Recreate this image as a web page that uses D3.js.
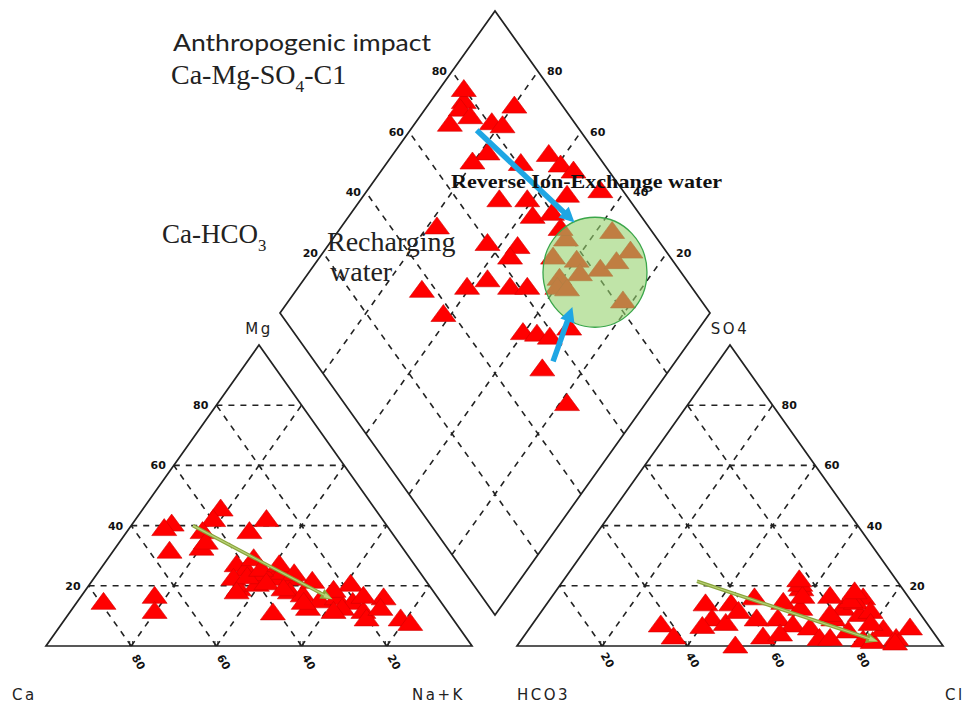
<!DOCTYPE html>
<html>
<head>
<meta charset="utf-8">
<title>Piper diagram</title>
<script src="https://d3js.org/d3.v7.min.js"></script>
<style>
    body { margin: 0; background: #fff; }
    svg { display: block; }
    .grid { fill: none; stroke: #222; stroke-width: 1.6; stroke-dasharray: 6,6; }
    .edge { fill: none; stroke: #222; stroke-width: 1.7; }
    .tick { font-family: "DejaVu Sans"; font-weight: bold; font-size: 11px; fill: #111; }
    .corner { font-family: "DejaVu Sans"; font-size: 15px; letter-spacing: 2.5px; fill: #222; }
    .serif { font-family: "Liberation Serif"; fill: #222; }
</style>
</head>
<body>
<div id="chart"></div>
<script>
// cation triangle: Na+K % and Mg % (Ca = rest)
const cationNaK = [9, 8, 13, 18, 18, 17.5, 20, 20, 30.5, 28.5, 6, 17, 19.5, 31, 34, 32.5, 35.5, 39, 39, 42,
                   43, 46.5, 47.5, 48, 51.5, 51.5, 55, 56.5, 60, 61, 64.5, 63, 68.5, 70.5, 71, 72, 78.5, 81.5, 61.5, 34,
                   35.5, 37.5, 41, 46, 41, 35.5, 46, 58, 66, 53];
const cationMg  = [41, 39.5, 32, 46, 42.5, 38.5, 33, 35, 42.5, 38.5, 15, 17, 12, 27.5, 26, 23, 19.5, 21, 24.5, 23,
                   25, 23, 11.5, 18.5, 17.5, 22, 13, 15.5, 16.5, 21, 15, 13, 12, 9.5, 16.5, 13, 9.5, 8, 12, 29.5,
                   23.5, 26, 27.5, 24.5, 21.5, 18.5, 19.5, 19, 17, 15];

// anion triangle: Cl % and SO4 % (HCO3 = rest)
const anionCl  = [30, 35, 37, 41, 40, 43, 45, 46, 47.5, 51.5, 56, 51, 56.5, 55, 57, 60, 61, 65.5, 69.5, 69.5,
                  70, 73, 75, 75, 80, 82.5, 83, 87.5, 89, 72, 59.5, 88, 56, 58.5, 72, 77, 68, 70.5, 70, 55, 65, 79];
const anionSO4 = [7.5, 3.5, 14.5, 9.5, 7, 14.5, 8, 12, 16.5, 9.5, 3.5, 0.5, 9.5, 15, 19.5, 13, 7.5, 6.5, 3, 9.5,
                  13, 16.5, 11, 5.5, 2.5, 2, 6, 3, 6.5, 3, 4.5, 1.5, 21, 17, 15, 12, 11, 15.5, 18.5, 22.5, 17, 8];

// diamond: SO4+Cl % and Ca+Mg %
const diamondSO4Cl = [78, 76, 71, 77, 81, 83, 89, 75, 70, 81, 89, 90, 92, 70, 76.5, 75, 80, 86.5, 95, 51,
                      60, 66.5, 63, 37, 48, 54, 58, 62, 38, 53.5, 56.5, 59, 65, 52, 52, 91, 79, 92, 78, 82,
                      87, 71, 76.5, 69, 71, 82, 73, 79.5, 80];
const diamondCaMg  = [92.5, 92, 92, 88.5, 82.5, 79.5, 80, 78.5, 80.5, 69, 64, 59.5, 55.5, 68, 61.5, 57.5, 53.5, 53, 46, 78,
                      63.5, 56, 56, 71, 61, 57.5, 51, 47, 62, 40.5, 37, 33.5, 30.5, 30, 18.5, 36.5, 46, 29, 40, 33,
                      30.5, 41, 37, 40, 37.5, 22.5, 46, 49, 94.5];

const gridTicks = [20, 40, 60, 80];

// trend arrows (from -> to)
const cationTrend = [[14.5, 40], [59.5, 15.5]];      // [Na+K, Mg]
const anionTrend = [[31.5, 21.5], [84, 1.5]];        // [Cl, SO4]
const diamondArrows = [[[76, 84.5], [83.5, 46.5]],   // [SO4+Cl, Ca+Mg]
                       [[55.5, 28.5], [69, 33]]];
const exchangeZone = [80, 33.5];

const W = 979, H = 707;
const svg = d3.select("#chart").append("svg").attr("width", W).attr("height", H);
svg.append("rect").attr("width", W).attr("height", H).attr("fill", "#fff");

const triW = 426, triH = 301;
function ternary(x0, y0) {
    const sx = d3.scaleLinear().domain([0, 100]).range([0, triW]);
    const sy = d3.scaleLinear().domain([0, 100]).range([y0, y0 - triH]);
    return (a, b) => [x0 + sx(a) + sx(b) / 2, sy(b)];
}
const cat = ternary(46, 646);
const ani = ternary(517, 646);
const px = d3.scaleLinear().domain([0, 100]).range([0, 215]);
const py = d3.scaleLinear().domain([0, 100]).range([0, 302]);
const dia = (p, q) => [495 + px(p) - px(q), 615 - py(p) - py(q)];

const line = d3.line();
function seg(g, f, a, b) {
    g.append("path").attr("class", "grid").attr("d", line([f(...a), f(...b)]));
}

function drawTriangle(f) {
    const g = svg.append("g");
    gridTicks.forEach(t => {
        seg(g, f, [0, t], [100 - t, t]);
        seg(g, f, [t, 0], [t, 100 - t]);
        seg(g, f, [100 - t, 0], [0, 100 - t]);
        const [x, y] = f(t, 0);
        [-1.5, 1.5].forEach(o => g.append("line").attr("x1", x + o).attr("x2", x + o)
            .attr("y1", y - 5).attr("y2", y).attr("stroke", "#222").attr("stroke-width", 1));
    });
    g.append("path").attr("class", "edge").attr("d", line([f(0, 0), f(100, 0), f(0, 100)]) + "Z");
    return g;
}

const gc = drawTriangle(cat);
const ga = drawTriangle(ani);

// diamond
const gd = svg.append("g");
gridTicks.forEach(t => {
    seg(gd, dia, [t, 0], [t, 100]);
    seg(gd, dia, [0, t], [100, t]);
});
gd.append("path").attr("class", "edge").attr("d", line([dia(0, 0), dia(100, 0), dia(100, 100), dia(0, 100)]) + "Z");

// tick labels
gridTicks.forEach(t => {
    let [x, y] = cat(0, t);
    gc.append("text").attr("class", "tick").attr("x", x - 8).attr("y", y + 4).attr("text-anchor", "end").text(t);
    [x, y] = cat(t, 0);
    gc.append("text").attr("class", "tick").attr("text-anchor", "middle")
        .attr("transform", `translate(${x + 4},${y + 18}) rotate(60)`).text(100 - t);
    [x, y] = ani(100 - t, t);
    ga.append("text").attr("class", "tick").attr("x", x + 9).attr("y", y + 4).text(t);
    [x, y] = ani(t, 0);
    ga.append("text").attr("class", "tick").attr("text-anchor", "middle")
        .attr("transform", `translate(${x + 2},${y + 16}) rotate(60)`).text(t);
    [x, y] = dia(t, 100);
    gd.append("text").attr("class", "tick").attr("x", x - 5).attr("y", y + 4).attr("text-anchor", "end").text(t);
    [x, y] = dia(100, t);
    gd.append("text").attr("class", "tick").attr("x", x + 9).attr("y", y + 4).text(t);
});

// corner labels
const corners = [
    ["Mg", cat(0, 100), 0, -11, "middle"], ["Ca", cat(0, 0), -34, 54, "start"], ["Na+K", cat(100, 0), -60, 54, "start"],
    ["SO4", ani(0, 100), 0, -11, "middle"], ["HCO3", ani(0, 0), 0, 54, "start"], ["Cl", ani(100, 0), 2, 54, "start"]
];
corners.forEach(([s, [x, y], dx, dy, anchor]) => {
    svg.append("text").attr("class", "corner").attr("x", x + dx).attr("y", y + dy)
        .attr("text-anchor", anchor).text(s);
});

// sample points
const tri = "M0,-8.5 L12.5,8.5 L-12.5,8.5 Z";
function drawPoints(pts) {
    svg.append("g").selectAll("path").data(pts).join("path")
        .attr("transform", d => `translate(${d})`)
        .attr("d", tri).attr("fill", "#ff0000").attr("stroke", "#d40000").attr("stroke-width", 0.6);
}
drawPoints(d3.zip(cationNaK, cationMg).map(d => cat(...d)));
drawPoints(d3.zip(anionCl, anionSO4).map(d => ani(...d)));
drawPoints(d3.zip(diamondSO4Cl, diamondCaMg).map(d => dia(...d)));

// ion-exchange zone
const ez = dia(...exchangeZone);
svg.append("ellipse").attr("cx", ez[0]).attr("cy", ez[1]).attr("rx", 52).attr("ry", 55)
    .attr("fill", "rgb(150,210,110)").attr("fill-opacity", 0.6)
    .attr("stroke", "#3aa64a").attr("stroke-width", 1.3);

function arrow(p0, p1, color, w, hl, hw) {
    const dx = p1[0] - p0[0], dy = p1[1] - p0[1], L = Math.hypot(dx, dy);
    const ux = dx / L, uy = dy / L, nx = -uy, ny = ux;
    const b = [p1[0] - ux * hl, p1[1] - uy * hl];
    const g = svg.append("g");
    g.append("line").attr("x1", p0[0]).attr("y1", p0[1]).attr("x2", b[0] + ux).attr("y2", b[1] + uy)
        .attr("stroke", color).attr("stroke-width", w);
    g.append("path").attr("fill", color)
        .attr("d", line([p1, [b[0] + nx * hw / 2, b[1] + ny * hw / 2], [b[0] - nx * hw / 2, b[1] - ny * hw / 2]]) + "Z");
    return g;
}
arrow(cat(...cationTrend[0]), cat(...cationTrend[1]), "#8aa53c", 3.5, 12, 11);
arrow(ani(...anionTrend[0]), ani(...anionTrend[1]), "#8aa53c", 3.5, 12, 11);
arrow(cat(...cationTrend[0]), cat(...cationTrend[1]), "#b9d27a", 1.2, 9, 5);
arrow(ani(...anionTrend[0]), ani(...anionTrend[1]), "#b9d27a", 1.2, 9, 5);
diamondArrows.forEach(([a, b]) => arrow(dia(...a), dia(...b), "#1ea6e4", 5.5, 15, 15));

// annotations
svg.append("text").attr("x", 173).attr("y", 51)
    .style("font-family", "Lato").style("font-size", "24px").style("fill", "#222")
    .attr("textLength", 258).attr("lengthAdjust", "spacingAndGlyphs").text("Anthropogenic impact");

function chem(x, y, parts, size) {
    const t = svg.append("text").attr("class", "serif").attr("x", x).attr("y", y).style("font-size", size + "px");
    let shift = 0;
    parts.forEach(([s, sub]) => {
        const d = sub ? 8 : -shift;
        shift = sub ? 8 : 0;
        t.append("tspan").attr("dy", d).style("font-size", (sub ? size * 0.62 : size) + "px").text(s);
    });
}
chem(171, 84, [["Ca-Mg-SO", false], ["4", true], ["-C1", false]], 28);
chem(162, 243, [["Ca-HCO", false], ["3", true]], 27);

svg.append("text").attr("class", "serif").attr("x", 327).attr("y", 251).style("font-size", "28px").text("Recharging");
svg.append("text").attr("class", "serif").attr("x", 330).attr("y", 281).style("font-size", "28px").text("water");
svg.append("text").attr("class", "serif").attr("x", 451).attr("y", 188)
    .style("font-size", "19px").style("font-weight", "bold").style("fill", "#111")
    .attr("textLength", 271).attr("lengthAdjust", "spacingAndGlyphs").text("Reverse Ion-Exchange water");
</script>
</body>
</html>
